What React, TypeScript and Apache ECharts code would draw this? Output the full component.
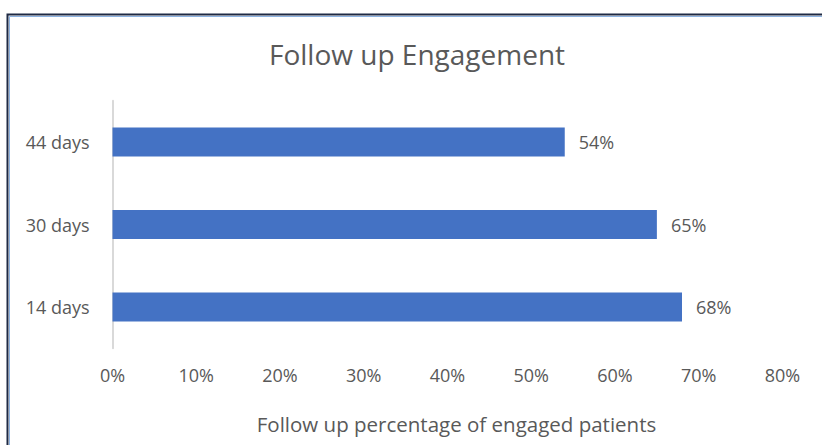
import React, { useEffect, useRef } from "react";
import * as echarts from "echarts";

const categories = ["14 days", "30 days", "44 days"];
const values = [68, 65, 54];
const xTicks = [0, 10, 20, 30, 40, 50, 60, 70, 80];
const titleText = "Follow up Engagement";
const xAxisName = "Follow up percentage of engaged patients";

const FONT = "'Open Sans', 'Liberation Sans', sans-serif";
const TXT = "#595959";

export default function App() {
  const ref = useRef<HTMLDivElement>(null);
  useEffect(() => {
    if (!ref.current) return;
    const chart = echarts.init(ref.current, null, { renderer: "svg" });
    chart.setOption({
      animation: false,
      backgroundColor: "#ffffff",
      title: {
        text: titleText,
        left: 264,
        top: 35,
        textStyle: { fontFamily: FONT, fontSize: 28, fontWeight: "normal", color: TXT },
      },
      graphic: [
        {
          type: "rect",
          shape: { x: 7.5, y: 14.5, width: 830, height: 445 },
          style: { fill: "none", stroke: "#1f2a44", lineWidth: 2 },
          silent: true,
        },
        {
          type: "rect",
          shape: { x: 9.5, y: 16.5, width: 826, height: 441 },
          style: { fill: "none", stroke: "#8db3e2", lineWidth: 1 },
          silent: true,
        },
      ],
      grid: { left: 112.5, top: 100.75, width: 670, height: 247.5, containLabel: false },
      xAxis: {
        type: "value",
        min: xTicks[0],
        max: xTicks[xTicks.length - 1],
        interval: 10,
        axisLine: { show: false },
        axisTick: { show: false },
        splitLine: { show: false },
        axisLabel: {
          formatter: (v: number) => v + "%",
          fontFamily: FONT,
          fontSize: 18,
          color: TXT,
          margin: 18,
        },
        name: xAxisName,
        nameLocation: "middle",
        nameGap: 65,
        nameTextStyle: {
          fontFamily: FONT,
          fontSize: 20.5,
          color: TXT,
          verticalAlign: "top",
          padding: [0, 0, 0, 18],
        },
      },
      yAxis: {
        type: "category",
        data: categories,
        axisLine: { show: true, lineStyle: { color: "#d9d9d9", width: 2 } },
        axisTick: { show: false },
        axisLabel: { fontFamily: FONT, fontSize: 18, color: TXT, margin: 23 },
      },
      series: [
        {
          type: "bar",
          data: values,
          barWidth: 29,
          itemStyle: { color: "#4472c4" },
          label: {
            show: true,
            position: "right",
            distance: 14,
            formatter: (p: any) => p.value + "%",
            fontFamily: FONT,
            fontSize: 18,
            color: TXT,
          },
        },
      ],
    });
    return () => chart.dispose();
  }, []);
  return (
    <div
      ref={ref}
      style={{ position: "absolute", left: 0, top: 0, width: 822, height: 445 }}
    />
  );
}
